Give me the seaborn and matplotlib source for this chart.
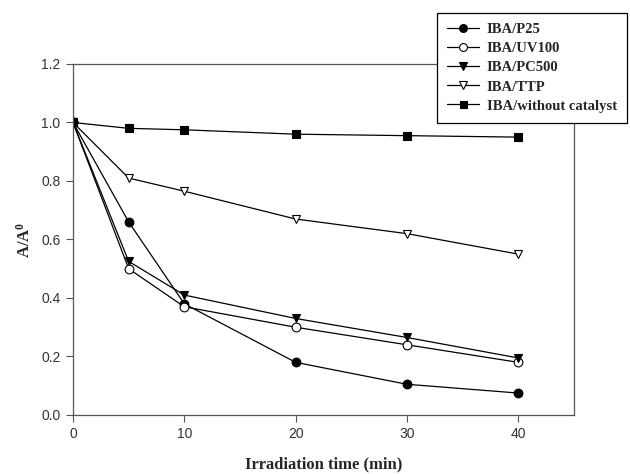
import matplotlib
matplotlib.use("Agg")
import matplotlib.pyplot as plt
import seaborn as sns
import pandas as pd

time_min = [0, 5, 10, 20, 30, 40]
p25 = [1.0, 0.66, 0.38, 0.18, 0.105, 0.075]
uv100 = [1.0, 0.50, 0.37, 0.30, 0.24, 0.18]
pc500 = [1.0, 0.525, 0.41, 0.33, 0.265, 0.195]
ttp = [1.0, 0.81, 0.765, 0.67, 0.62, 0.55]
no_cat = [1.0, 0.98, 0.975, 0.96, 0.955, 0.95]
series_names = ["IBA/P25", "IBA/UV100", "IBA/PC500", "IBA/TTP", "IBA/without catalyst"]
series_values = [p25, uv100, pc500, ttp, no_cat]
x_ticks = [0, 10, 20, 30, 40]
y_ticks = [0.0, 0.2, 0.4, 0.6, 0.8, 1.0, 1.2]

styles = {
    "IBA/P25": dict(marker="o", mfc="black", ms=6.3),
    "IBA/UV100": dict(marker="o", mfc="white", ms=6.3),
    "IBA/PC500": dict(marker="v", mfc="black", ms=6.3),
    "IBA/TTP": dict(marker="v", mfc="white", ms=6.3),
    "IBA/without catalyst": dict(marker="s", mfc="black", ms=5.6),
}

sns.set_theme(style="white")
plt.rcParams["font.family"] = ["Liberation Sans", "DejaVu Sans"]
plt.rcParams["mathtext.fontset"] = "custom"
plt.rcParams["mathtext.rm"] = "Liberation Serif:bold"
plt.rcParams["mathtext.bf"] = "Liberation Serif:bold"
plt.rcParams["mathtext.it"] = "Liberation Serif:bold"

rows = []
for name, vals in zip(series_names, series_values):
    for t, v in zip(time_min, vals):
        rows.append({"time": t, "value": v, "series": name})
df = pd.DataFrame(rows)

fig = plt.figure(figsize=(6.3, 4.74), dpi=100)
ax = fig.add_axes([0.1159, 0.1245, 0.795, 0.7405])

for name in series_names:
    st = styles[name]
    sub = df[df["series"] == name]
    sns.lineplot(data=sub, x="time", y="value", ax=ax, color="black",
                 linewidth=0.9, marker=st["marker"], markersize=st["ms"],
                 markerfacecolor=st["mfc"], markeredgecolor="black",
                 markeredgewidth=0.8, label=name, legend=False)

ax.set_xlim(0, 45)
ax.set_ylim(0, 1.2)
ax.set_xticks(x_ticks)
ax.set_yticks(y_ticks)
ax.set_yticklabels([f"{v:.1f}" for v in y_ticks])
ax.tick_params(axis="both", direction="out", length=5, width=0.8, color="#555555",
               labelsize=10, labelcolor="#333333", bottom=True, left=True, pad=4)
for sp in ax.spines.values():
    sp.set_color("#555555")
    sp.set_linewidth(0.9)

ax.set_xlabel("Irradiation time (min)", fontfamily="Liberation Serif", fontweight="bold",
              fontsize=12, labelpad=11)
ax.set_ylabel(r"A/A$^{\mathbf{0}}$", fontfamily="Liberation Serif", fontweight="bold",
              fontsize=12, labelpad=5)

h, l = ax.get_legend_handles_labels()
leg = ax.legend(h, l, loc="upper left", bbox_to_anchor=(0.6937, 0.9726),
                bbox_transform=fig.transFigure, frameon=True, fancybox=False,
                framealpha=1, edgecolor="black", handlelength=2.2, handletextpad=0.5,
                borderpad=0.7, labelspacing=0.4, borderaxespad=0, markerscale=0.9,
                prop={"family": "Liberation Serif", "weight": "bold", "size": 10.5})
leg.get_frame().set_linewidth(0.9)
leg.set_zorder(10)

fig.savefig("out.png", dpi=100)
